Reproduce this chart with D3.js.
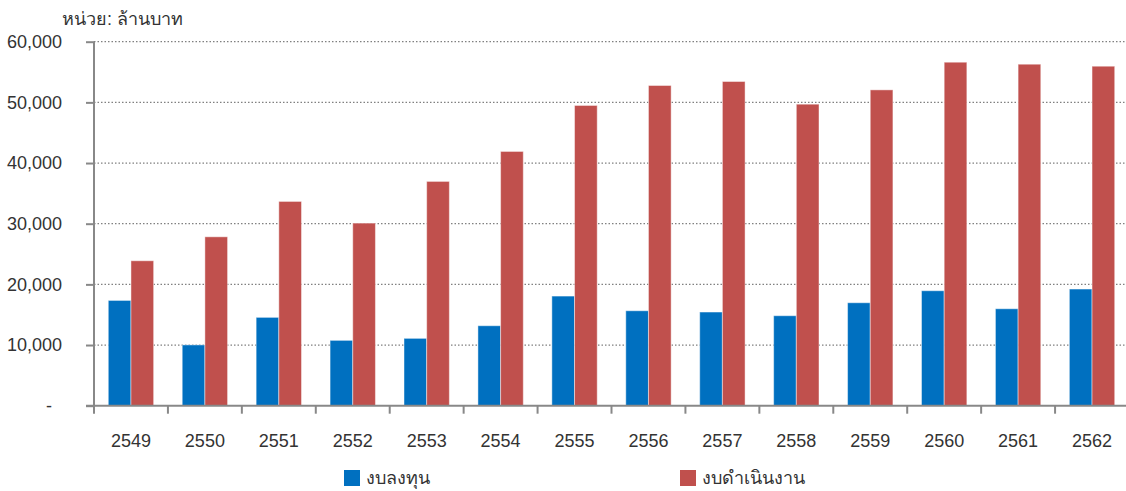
<!DOCTYPE html>
<html>
<head>
<meta charset="utf-8">
<script src="https://cdn.jsdelivr.net/npm/d3@7"></script>
<style>
  body { margin: 0; background: #fff; }
  text { font-family: "Liberation Sans", Arial, sans-serif; fill: #333; }
</style>
</head>
<body>
<div id="chart"></div>
<script>
const years = ["2549", "2550", "2551", "2552", "2553", "2554", "2555", "2556", "2557", "2558", "2559", "2560", "2561", "2562"];
const capital = [17350, 10020, 14560, 10770, 11100, 13180, 18070, 15650, 15440, 14830, 16970, 18950, 15980, 19230];
const operating = [23890, 27840, 33670, 30100, 36970, 41910, 49490, 52780, 53440, 49700, 52060, 56620, 56290, 55960];
const seriesNames = ["งบลงทุน", "งบดำเนินงาน"];
const colors = ["#0070C0", "#C0504D"];
const yTicks = [0, 10000, 20000, 30000, 40000, 50000, 60000];

const width = 1126, height = 491;
const x0 = 94, x1 = 1129, yTop = 41.7, yBottom = 405.7;

const svg = d3.select("#chart").append("svg")
  .attr("width", width).attr("height", height);

const x = d3.scaleBand().domain(years).range([x0, x1]);
const sub = d3.scaleBand().domain([0, 1]).range([0, x.bandwidth()]).paddingOuter(0.63).paddingInner(0);
const y = d3.scaleLinear().domain([0, 60000]).range([yBottom, yTop]);

// gridlines
svg.append("g")
  .selectAll("line")
  .data(yTicks.filter(d => d > 0))
  .join("line")
    .attr("x1", x0).attr("x2", width)
    .attr("y1", d => y(d)).attr("y2", d => y(d))
    .attr("stroke", "#808080")
    .attr("stroke-width", 1.3)
    .attr("stroke-dasharray", "1.5,2");

// bars
const groups = svg.append("g").selectAll("g")
  .data(years.map((yr, i) => ({ yr, vals: [capital[i], operating[i]] })))
  .join("g")
    .attr("transform", d => `translate(${x(d.yr)},0)`);

groups.selectAll("rect")
  .data(d => d.vals.map((v, k) => ({ v, k })))
  .join("rect")
    .attr("x", d => sub(d.k))
    .attr("width", sub.bandwidth())
    .attr("y", d => y(d.v))
    .attr("height", d => yBottom - y(d.v))
    .attr("fill", d => colors[d.k])
    .attr("stroke", "rgba(255,255,255,0.45)")
    .attr("stroke-width", 1);

// y axis
const yAxis = svg.append("g")
  .attr("transform", `translate(${x0},0)`)
  .call(d3.axisLeft(y).tickValues(yTicks).tickSize(8).tickPadding(24)
    .tickFormat(d => d === 0 ? "-" : d3.format(",")(d)));
yAxis.select(".domain").attr("stroke", "#888").attr("stroke-width", 2)
  .attr("d", `M0,${yTop}V${yBottom + 8}`);
yAxis.selectAll(".tick line").attr("stroke", "#888").attr("stroke-width", 2);
yAxis.selectAll(".tick text")
  .style("font-size", "18px")
  .style("font-family", "'Liberation Sans', Arial, sans-serif")
  .attr("fill", "#333")
  .attr("dx", d => d === 0 ? -10 : 0);

// x axis
const xAxis = svg.append("g")
  .attr("transform", `translate(0,${yBottom})`);
xAxis.append("line")
  .attr("x1", x0 - 8).attr("x2", width)
  .attr("stroke", "#888").attr("stroke-width", 2);
xAxis.selectAll("line.tick")
  .data(years)
  .join("line")
    .attr("class", "tick")
    .attr("x1", d => x(d) + x.bandwidth()).attr("x2", d => x(d) + x.bandwidth())
    .attr("y1", 0).attr("y2", 8)
    .attr("stroke", "#888").attr("stroke-width", 2);
xAxis.selectAll("text")
  .data(years)
  .join("text")
    .attr("x", d => x(d) + x.bandwidth() / 2)
    .attr("y", 41)
    .attr("text-anchor", "middle")
    .style("font-size", "18px")
    .text(d => d);

// unit label
svg.append("text")
  .attr("x", 62).attr("y", 25)
  .style("font-size", "18px")
  .text("หน่วย: ล้านบาท");

// legend
const legendX = [344, 680];
const legend = svg.append("g").selectAll("g")
  .data(seriesNames)
  .join("g")
    .attr("transform", (d, i) => `translate(${legendX[i]},470)`);
legend.append("rect")
  .attr("width", 16).attr("height", 16)
  .attr("fill", (d, i) => colors[i]);
legend.append("text")
  .attr("x", 22).attr("y", 14)
  .style("font-size", "18px")
  .text(d => d);
</script>
</body>
</html>
